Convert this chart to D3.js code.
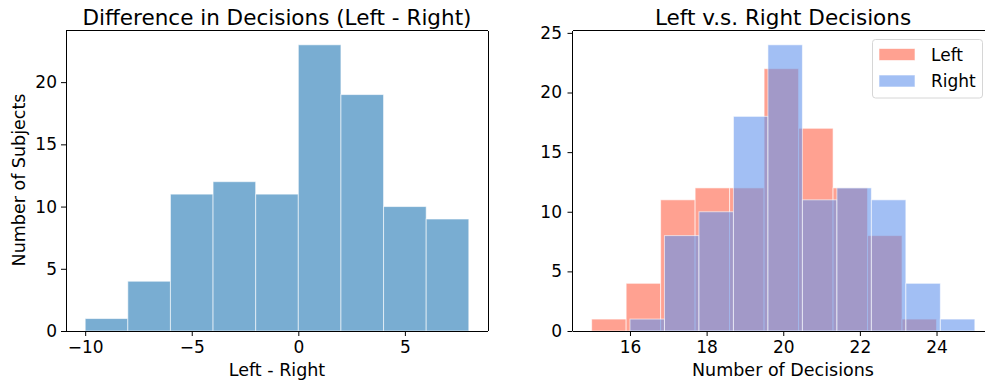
<!DOCTYPE html>
<html>
<head>
<meta charset="utf-8">
<script src="https://cdn.jsdelivr.net/npm/d3@7"></script>
<style>
	body { margin: 0; background: white; }
	svg { font-family: "DejaVu Sans", sans-serif; }
</style>
</head>
<body>
<div id="vis"></div>
<script>
// histogram data
var diffBins = [-10, -8, -6, -4, -2, 0, 2, 4, 6, 8];
var diffCounts = [1, 4, 11, 12, 11, 23, 19, 10, 9];

var leftBins = [15, 15.9, 16.8, 17.7, 18.6, 19.5, 20.4, 21.3, 22.2, 23.1, 24];
var leftCounts = [1, 4, 11, 12, 12, 22, 17, 12, 8, 1];

var rightBins = [16, 16.9, 17.8, 18.7, 19.6, 20.5, 21.4, 22.3, 23.2, 24.1, 25];
var rightCounts = [1, 8, 10, 18, 24, 11, 12, 11, 4, 1];

var diffTicksX = [-10, -5, 0, 5];
var diffTicksY = [0, 5, 10, 15, 20];
var decTicksX = [16, 18, 20, 22, 24];
var decTicksY = [0, 5, 10, 15, 20, 25];

var legendLabels = ["Left", "Right"];

function init(){
	var width = 985;
	var height = 383;

	var svg = d3.select("#vis").append("svg")
				.attr("width", width)
				.attr("height", height);

	var tickFont = "17px";
	var labelFont = "17.5px";
	var titleFont = "21.5px";

	function bins(edges, counts){
		return counts.map(function(c, i){ return {x0: edges[i], x1: edges[i+1], n: c}; });
	}

	function drawAxes(g, x, y, xt, yt, xfmt, ypad){
		var xa = d3.axisBottom(x).tickValues(xt).tickSize(5).tickPadding(5).tickSizeOuter(0)
					.tickFormat(xfmt);
		var ya = d3.axisLeft(y).tickValues(yt).tickSize(5).tickPadding(ypad).tickSizeOuter(0);
		var gx = g.append("g").attr("transform", "translate(0," + y(0) + ")").call(xa);
		var gy = g.append("g").attr("transform", "translate(" + x.range()[0] + ",0)").call(ya);
		[gx, gy].forEach(function(a){
			a.select(".domain").remove();
			a.selectAll("line").attr("stroke", "#000").attr("stroke-width", 1);
			a.selectAll("text").attr("fill", "#000").style("font-size", tickFont)
				.style("font-family", "DejaVu Sans");
		});
	}

	function frame(g, x, y, sides){
		var x0 = x.range()[0], x1 = x.range()[1];
		var y0 = y.range()[0], y1 = y.range()[1];
		var lines = {
			left: [x0, y0, x0, y1],
			bottom: [x0, y0, x1, y0],
			top: [x0, y1, x1, y1],
			right: [x1, y0, x1, y1]
		};
		sides.forEach(function(s){
			var l = lines[s];
			g.append("line").attr("x1", l[0]).attr("y1", l[1]).attr("x2", l[2]).attr("y2", l[3])
				.attr("stroke", "#000").attr("stroke-width", 1).attr("shape-rendering", "crispEdges");
		});
	}

	function drawBars(g, x, y, data, color, op){
		g.append("g").selectAll("rect").data(data).enter()
			.append("rect")
			.attr("x", d => x(d.x0))
			.attr("y", d => y(d.n))
			.attr("width", d => x(d.x1) - x(d.x0))
			.attr("height", d => y(0) - y(d.n))
			.attr("fill", color)
			.attr("fill-opacity", op)
			.attr("stroke", "white")
			.attr("stroke-opacity", op)
			.attr("stroke-width", 1);
	}

	var minusFmt = d => (d < 0 ? "\u2212" + Math.abs(d) : "" + d);

	//left chart: difference histogram
	var g1 = svg.append("g");
	var x1 = d3.scaleLinear().domain([-10.9, 8.9]).range([66, 488]);
	var y1 = d3.scaleLinear().domain([0, 24.15]).range([331, 30.5]);
	drawBars(g1, x1, y1, bins(diffBins, diffCounts), "#1f77b4", 0.6);
	frame(g1, x1, y1, ["left", "bottom", "top", "right"]);
	drawAxes(g1, x1, y1, diffTicksX, diffTicksY, minusFmt, 4);

	g1.append("text").attr("x", 277).attr("y", 25).attr("text-anchor", "middle")
		.style("font-size", titleFont).text("Difference in Decisions (Left - Right)");
	g1.append("text").attr("x", 277).attr("y", 376).attr("text-anchor", "middle")
		.style("font-size", labelFont).text("Left - Right");
	g1.append("text").attr("transform", "translate(25,180) rotate(-90)").attr("text-anchor", "middle")
		.style("font-size", labelFont).text("Number of Subjects");

	//right chart: overlapping histograms
	var g2 = svg.append("g");
	var x2 = d3.scaleLinear().domain([14.5, 25.5]).range([572.5, 994]);
	var y2 = d3.scaleLinear().domain([0, 25.2]).range([331, 30.5]);
	var colors = ["#ff6347", "#6495ed"];
	drawBars(g2, x2, y2, bins(leftBins, leftCounts), colors[0], 0.6);
	drawBars(g2, x2, y2, bins(rightBins, rightCounts), colors[1], 0.6);
	frame(g2, x2, y2, ["left", "bottom", "top", "right"]);
	drawAxes(g2, x2, y2, decTicksX, decTicksY, minusFmt, 5.5);

	g2.append("text").attr("x", 783).attr("y", 25).attr("text-anchor", "middle")
		.style("font-size", titleFont).text("Left v.s. Right Decisions");
	g2.append("text").attr("x", 783).attr("y", 376).attr("text-anchor", "middle")
		.style("font-size", labelFont).text("Number of Decisions");

	//legend
	var lg = g2.append("g");
	lg.append("rect").attr("x", 872.5).attr("y", 39.5).attr("width", 110).attr("height", 58.5)
		.attr("rx", 3).attr("fill", "white").attr("fill-opacity", 0.8)
		.attr("stroke", "#d6d6d6").attr("stroke-width", 1);
	legendLabels.forEach(function(l, i){
		lg.append("rect").attr("x", 879).attr("y", 48.5 + i * 26.5).attr("width", 36).attr("height", 12)
			.attr("fill", colors[i]).attr("fill-opacity", 0.6)
			.attr("stroke", "white").attr("stroke-opacity", 0.6);
		lg.append("text").attr("x", 931).attr("y", 61 + i * 26).style("font-size", tickFont).text(l);
	});
}

window.onload = init;
</script>
</body>
</html>
